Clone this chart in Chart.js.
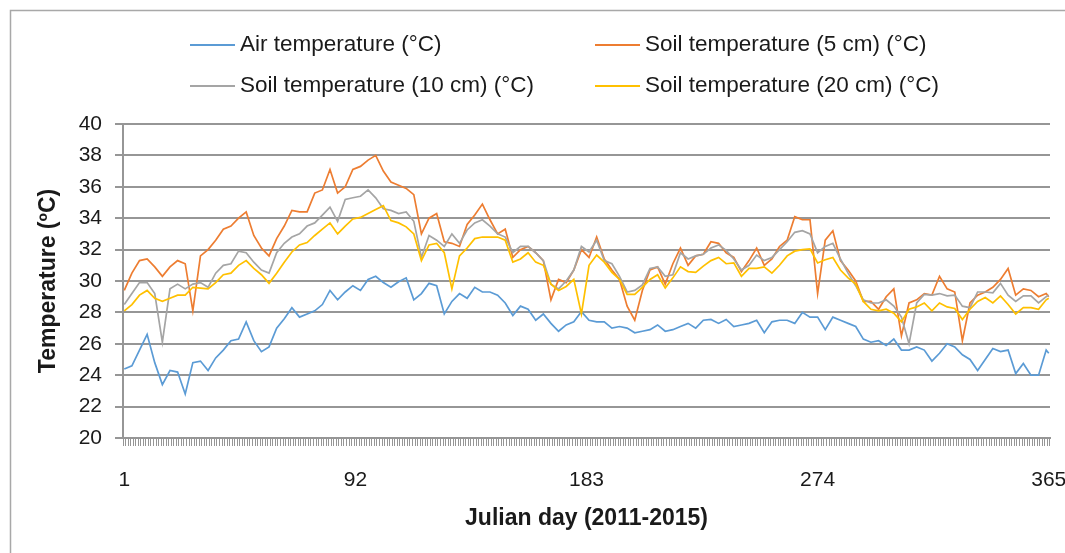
<!DOCTYPE html>
<html>
<head>
<meta charset="utf-8">
<script src="https://cdn.jsdelivr.net/npm/chart.js@4.4.0/dist/chart.umd.min.js"></script>
<style>
html,body{margin:0;padding:0;background:#fff;}
#wrap{width:1065px;height:553px;position:relative;}
</style>
</head>
<body>
<div id="wrap"><canvas id="c" width="1065" height="553"></canvas></div>
<script>
const sampleDays = [
  1,4,7,10,13,16,19,22,25,28,
  31,34,37,40,43,46,49,52,55,58,
  61,64,67,70,73,76,79,82,85,88,
  91,94,97,100,103,106,109,112,115,118,
  121,124,127,130,133,136,139,142,145,148,
  151,154,157,160,163,166,169,172,175,178,
  181,184,187,190,193,196,199,202,205,208,
  211,214,217,220,223,226,229,232,235,238,
  241,244,247,250,253,256,259,262,265,268,
  271,274,277,280,283,286,289,292,295,298,
  301,304,307,310,313,316,319,322,325,328,
  331,334,337,340,343,346,349,352,355,358,
  361,364,365
];

const airTemp = [
  24.4,24.6,25.6,26.6,24.8,23.4,24.3,24.2,22.8,24.8,
  24.9,24.3,25.1,25.6,26.2,26.3,27.4,26.2,25.5,25.8,
  27.0,27.6,28.3,27.7,27.9,28.1,28.5,29.4,28.8,29.3,
  29.7,29.4,30.1,30.3,29.9,29.6,29.95,30.2,28.8,29.2,
  29.85,29.7,27.9,28.7,29.2,28.9,29.6,29.3,29.3,29.1,
  28.6,27.8,28.4,28.2,27.5,27.9,27.3,26.8,27.2,27.4,
  28.05,27.5,27.4,27.4,27.0,27.1,27.0,26.7,26.8,26.9,
  27.2,26.8,26.9,27.1,27.3,27.0,27.5,27.55,27.3,27.55,
  27.1,27.2,27.3,27.5,26.7,27.4,27.5,27.5,27.3,28.0,
  27.7,27.7,26.9,27.7,27.5,27.3,27.1,26.3,26.1,26.2,
  25.9,26.3,25.6,25.6,25.8,25.6,24.9,25.4,26.0,25.8,
  25.3,25.0,24.3,25.0,25.7,25.5,25.6,24.1,24.75,24.0,
  24.0,25.6,25.4
];

const soil5cm = [
  29.4,30.5,31.3,31.4,30.9,30.3,30.9,31.3,31.1,28.1,
  31.6,32.0,32.6,33.3,33.5,34.0,34.4,32.9,32.1,31.6,
  32.7,33.5,34.5,34.4,34.4,35.6,35.8,37.1,35.6,36.0,
  37.1,37.3,37.7,38.0,37.0,36.3,36.1,35.9,35.5,33.0,
  34.0,34.3,32.5,32.4,32.2,33.6,34.2,34.9,33.9,33.0,
  33.3,31.5,32.0,32.2,31.8,31.3,28.8,30.1,29.9,30.7,
  32.0,31.5,32.8,31.4,30.7,30.1,28.4,27.5,29.4,30.7,
  30.9,29.8,31.1,32.1,31.0,31.6,31.7,32.5,32.4,31.8,
  31.5,30.6,31.3,32.1,31.0,31.4,32.2,32.6,34.1,33.9,
  33.9,29.2,32.6,33.2,31.3,30.7,30.0,28.7,28.7,28.2,
  29.0,29.5,26.5,28.6,28.8,29.2,29.1,30.3,29.5,29.3,
  26.2,28.6,29.1,29.3,29.6,30.1,30.8,29.1,29.5,29.4,
  29.0,29.2,29.0
];

const soil10cm = [
  28.5,29.2,29.9,29.9,29.2,26.1,29.5,29.8,29.5,29.8,
  29.9,29.6,30.5,31.0,31.1,31.9,31.8,31.2,30.7,30.5,
  31.8,32.4,32.8,33.0,33.5,33.7,34.2,34.7,33.8,35.2,
  35.3,35.4,35.8,35.3,34.6,34.5,34.3,34.4,33.8,31.5,
  32.9,32.6,32.2,33.0,32.4,33.25,33.7,33.9,33.5,33.0,
  32.8,31.8,32.2,32.2,31.8,31.3,29.8,29.5,30.0,30.7,
  32.2,31.85,32.6,31.3,31.1,30.3,29.3,29.4,29.75,30.8,
  30.9,30.3,30.4,31.8,31.4,31.6,31.7,32.1,32.3,31.95,
  31.4,30.7,31.0,31.65,31.3,31.5,32.0,32.5,33.1,33.2,
  33.0,31.8,32.2,32.4,31.4,30.5,29.7,28.8,28.6,28.6,
  28.8,28.4,27.7,26.0,28.6,29.15,29.1,29.2,29.05,29.1,
  28.4,28.3,29.3,29.3,29.25,29.85,29.1,28.7,29.05,29.05,
  28.6,29.0,29.1
];

const soil20cm = [
  28.1,28.5,29.1,29.4,28.9,28.7,28.9,29.1,29.1,29.6,
  29.55,29.5,29.9,30.4,30.5,31.0,31.3,30.8,30.4,29.85,
  30.5,31.2,31.85,32.3,32.45,32.9,33.3,33.7,33.0,33.5,
  33.95,34.05,34.3,34.55,34.8,33.85,33.7,33.45,33.0,31.3,
  32.3,32.4,31.8,29.5,31.6,32.1,32.7,32.8,32.8,32.8,
  32.6,31.2,31.4,31.8,31.2,31.0,29.8,29.4,29.65,30.1,
  27.9,31.0,31.65,31.2,30.55,30.1,29.15,29.15,29.6,30.1,
  30.4,29.55,30.2,30.9,30.6,30.55,30.95,31.3,31.5,31.1,
  31.15,30.3,30.8,30.8,30.9,30.5,31.0,31.6,31.9,32.0,
  32.05,31.15,31.35,31.5,30.7,30.2,29.8,28.7,28.2,28.1,
  28.2,27.95,27.4,28.2,28.35,28.6,28.1,28.6,28.35,28.25,
  27.55,28.2,28.7,28.95,28.6,29.05,28.5,27.9,28.3,28.3,
  28.2,28.8,28.9
];

const seriesNames = [
  'Air temperature (°C)',
  'Soil temperature (5 cm) (°C)',
  'Soil temperature (10 cm) (°C)',
  'Soil temperature (20 cm) (°C)'
];
const seriesColors = ['#5b9bd5', '#ed7d31', '#a5a5a5', '#ffc000'];
const seriesValues = [airTemp, soil5cm, soil10cm, soil20cm];

// category axis: one category per Julian day, labels shown only at these
const dayLabels = Array.from({length: 365}, (_, i) => String(i + 1));
const shownDayLabels = ['1', '92', '183', '274', '365'];
const yMin = 20, yMax = 40, yStep = 2;

const FONT = "'Liberation Sans', Arial, sans-serif";
const TEXT = '#1a1a1a';
const GRID = '#969696';

const frameAndLegend = {
  id: 'frameAndLegend',
  beforeDraw(chart) {
    const ctx = chart.ctx;
    ctx.save();
    ctx.fillStyle = '#ffffff';
    ctx.fillRect(0, 0, chart.width, chart.height);
    ctx.strokeStyle = '#a8a8a8';
    ctx.lineWidth = 1.5;
    ctx.beginPath();
    ctx.moveTo(10.5, chart.height);
    ctx.lineTo(10.5, 10.5);
    ctx.lineTo(chart.width, 10.5);
    ctx.stroke();
    ctx.restore();
  },
  afterDraw(chart) {
    const ctx = chart.ctx;
    const colX = [190, 595];
    const rowY = [45, 86];
    ctx.save();
    ctx.font = '22.5px ' + FONT;
    ctx.textBaseline = 'middle';
    ctx.textAlign = 'left';
    chart.data.datasets.forEach((ds, i) => {
      const x = colX[i % 2];
      const y = rowY[Math.floor(i / 2)];
      ctx.strokeStyle = ds.borderColor;
      ctx.lineWidth = 2;
      ctx.beginPath();
      ctx.moveTo(x, y);
      ctx.lineTo(x + 45, y);
      ctx.stroke();
      ctx.fillStyle = TEXT;
      ctx.fillText(ds.label, x + 50, y);
    });
    ctx.restore();
  }
};

new Chart(document.getElementById('c').getContext('2d'), {
  type: 'line',
  data: {
    labels: dayLabels,
    datasets: seriesNames.map((name, i) => ({
      label: name,
      data: sampleDays.map((d, j) => ({x: String(d), y: seriesValues[i][j]})),
      borderColor: seriesColors[i],
      backgroundColor: seriesColors[i],
      borderWidth: 1.7,
      pointRadius: 0,
      tension: 0,
      fill: false,
      order: 4 - i
    }))
  },
  options: {
    responsive: false,
    animation: false,
    devicePixelRatio: 1,
    layout: {padding: {top: 124, right: 15, left: 0, bottom: 0}},
    plugins: {legend: {display: false}, tooltip: {enabled: false}},
    scales: {
      x: {
        type: 'category',
        offset: true,
        grid: {offset: true, drawOnChartArea: false, drawTicks: true, tickLength: 8, color: GRID, lineWidth: 1},
        border: {display: true, color: GRID, width: 2},
        ticks: {
          autoSkip: false, maxRotation: 0, minRotation: 0, padding: 22,
          color: TEXT, font: {family: FONT, size: 21},
          callback(v) {
            const l = this.getLabelForValue(v);
            return shownDayLabels.includes(l) ? l : '';
          }
        },
        title: {display: true, text: 'Julian day (2011-2015)', color: TEXT,
                font: {family: FONT, size: 23, weight: 'bold'}, padding: {top: 0, bottom: 21}},
        afterFit(s) { s.height = 115; s.paddingLeft = 0; s.paddingRight = 0; }
      },
      y: {
        min: yMin, max: yMax,
        ticks: {stepSize: yStep, padding: 13, color: TEXT, font: {family: FONT, size: 21}},
        grid: {color: GRID, lineWidth: 2, tickLength: 8},
        border: {display: true, color: GRID, width: 2},
        title: {display: true, text: 'Temperature (ºC)', color: TEXT,
                font: {family: FONT, size: 23, weight: 'bold'}, padding: {top: 35, bottom: 0}},
        afterFit(s) { s.width = 123; s.paddingTop = 0; s.paddingBottom = 0; }
      }
    }
  },
  plugins: [frameAndLegend]
});
</script>
</body>
</html>
